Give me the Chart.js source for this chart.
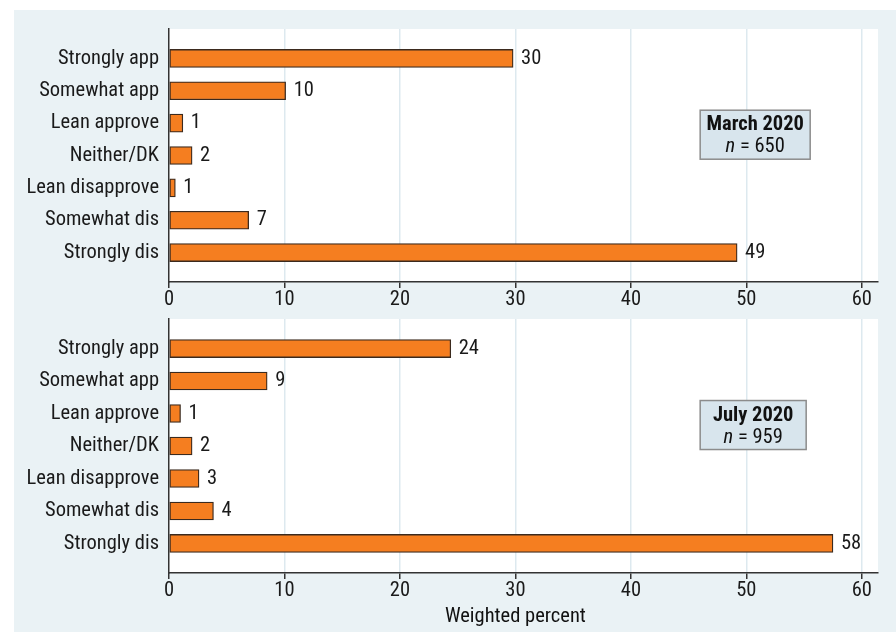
<!DOCTYPE html>
<html>
<head>
<meta charset="utf-8">
<script src="https://cdn.jsdelivr.net/npm/chart.js@4.4.0/dist/chart.umd.min.js"></script>
<style>
  body { margin: 0; background: #fff; width: 896px; height: 632px; overflow: hidden; position: relative; }
  #bg { position: absolute; left: 14px; top: 10px; width: 882px; height: 622px; background: #eaf2f5; }
  #march { position: absolute; left: 14px; top: 10px; }
  #july { position: absolute; left: 14px; top: 306px; }
</style>
</head>
<body>
<div id="bg"></div>
<canvas id="march" width="882" height="296"></canvas>
<canvas id="july" width="882" height="326"></canvas>
<script>
/* Answers to the approval question, two survey waves */
const categories = ["Strongly app", "Somewhat app", "Lean approve", "Neither/DK", "Lean disapprove", "Somewhat dis", "Strongly dis"];
const xTicks = [0, 10, 20, 30, 40, 50, 60];

const marchValues = [29.8, 10.1, 1.2, 2.0, 0.55, 6.9, 49.2];
const marchLabels = ["30", "10", "1", "2", "1", "7", "49"];

const julyValues = [24.4, 8.5, 1.0, 2.0, 2.6, 3.85, 57.5];
const julyLabels = ["24", "9", "1", "2", "3", "4", "58"];

const FONT = '"Roboto Condensed", "DejaVu Sans Condensed", sans-serif';
const SIZE = 20.5;
Chart.defaults.font.family = FONT;
Chart.defaults.font.size = SIZE;
Chart.defaults.color = "#1a1a1a";

// white plot area, numbers at bar ends, the wave box and the axis title
const panelPlugin = {
  id: "panel",
  beforeDraw(chart) {
    const a = chart.chartArea;
    const ctx = chart.ctx;
    ctx.save();
    ctx.fillStyle = "#ffffff";
    ctx.fillRect(a.left, a.top, a.right - a.left, a.bottom - a.top);
    ctx.restore();
  },
  afterDatasetsDraw(chart, args, opts) {
    const ctx = chart.ctx;
    const meta = chart.getDatasetMeta(0);
    ctx.save();
    ctx.font = SIZE + "px " + FONT;
    ctx.fillStyle = "#1a1a1a";
    ctx.textAlign = "left";
    ctx.textBaseline = "middle";
    meta.data.forEach((bar, i) => {
      ctx.fillText(opts.labels[i], bar.x + 8, bar.y);
    });
    ctx.restore();
  },
  afterDraw(chart, args, opts) {
    const ctx = chart.ctx;
    const xs = chart.scales.x;
    const ys = chart.scales.y;
    const left = xs.getPixelForValue(opts.boxX);
    const top = ys.getPixelForValue(opts.boxY);
    ctx.save();
    ctx.fillStyle = "#d8e5ed";
    ctx.strokeStyle = "#8c8c8c";
    ctx.lineWidth = 1.5;
    ctx.fillRect(left, top, opts.boxW, opts.boxH);
    ctx.strokeRect(left, top, opts.boxW, opts.boxH);

    const cx = left + opts.boxW / 2;
    ctx.fillStyle = "#111";
    ctx.textBaseline = "middle";
    ctx.textAlign = "center";
    ctx.font = "bold " + SIZE + "px " + FONT;
    ctx.fillText(opts.title, cx, top + 15);

    // "n = 650" with an italic n
    ctx.textAlign = "left";
    ctx.font = "italic " + SIZE + "px " + FONT;
    const wn = ctx.measureText("n").width;
    ctx.font = SIZE + "px " + FONT;
    const rest = " = " + opts.n;
    const wr = ctx.measureText(rest).width;
    const sx = cx - (wn + wr) / 2;
    ctx.font = "italic " + SIZE + "px " + FONT;
    ctx.fillText("n", sx, top + 37);
    ctx.font = SIZE + "px " + FONT;
    ctx.fillText(rest, sx + wn, top + 37);

    if (opts.axisTitle) {
      ctx.textAlign = "center";
      ctx.fillText(opts.axisTitle, xs.getPixelForValue(30), chart.chartArea.bottom + 44);
    }
    ctx.restore();
  }
};

function makePanel(id, values, labels, title, n, padTop, axisHeight, axisTitle) {
  new Chart(document.getElementById(id), {
    type: "bar",
    data: {
      datasets: [{
        data: values.map((v, i) => ({ x: v, y: i })),
        backgroundColor: "#f57e20",
        borderColor: "#3b2a1e",
        borderWidth: 1.3,
        borderSkipped: false,
        barThickness: 18
      }]
    },
    options: {
      indexAxis: "y",
      responsive: false,
      animation: false,
      layout: { padding: { top: padTop, right: 18, left: 0, bottom: 0 } },
      plugins: {
        legend: { display: false },
        tooltip: { enabled: false },
        panel: { labels: labels, title: title, n: n, boxX: 46, boxY: 1.6, boxW: title.startsWith("March") ? 110 : 106, boxH: 49, axisTitle: axisTitle }
      },
      scales: {
        x: {
          type: "linear",
          min: 0,
          max: 61.4,
          afterBuildTicks: (s) => { s.ticks = xTicks.map((v) => ({ value: v })); },
          afterFit: (s) => { s.height = axisHeight; },
          ticks: { padding: 0, maxRotation: 0, autoSkip: false, color: "#1a1a1a" },
          grid: {
            color: (c) => (c.tick && c.tick.value === 0 ? "rgba(0,0,0,0)" : "#dde9ef"),
            lineWidth: 1.5,
            tickColor: "#333",
            tickLength: 6,
            tickWidth: 1.5
          },
          border: { color: "#333", width: 1.5 }
        },
        y: {
          type: "linear",
          reverse: true,
          offset: false,
          min: -0.91,
          max: 6.91,
          afterBuildTicks: (s) => { s.ticks = categories.map((c, i) => ({ value: i })); },
          // fixed width, and no extra room above/below for the labels
          afterFit: (s) => { s.width = 155; s.paddingTop = 0; s.paddingBottom = 0; },
          ticks: { padding: 10, autoSkip: false, callback: (v) => categories[v], color: "#1a1a1a" },
          grid: { display: false, drawTicks: false },
          border: { color: "#333", width: 1.5 }
        }
      }
    },
    plugins: [panelPlugin]
  });
}

makePanel("march", marchValues, marchLabels, "March 2020", 650, 19, 24, null);
makePanel("july", julyValues, julyLabels, "July 2020", 959, 13, 59, "Weighted percent");
</script>
</body>
</html>
